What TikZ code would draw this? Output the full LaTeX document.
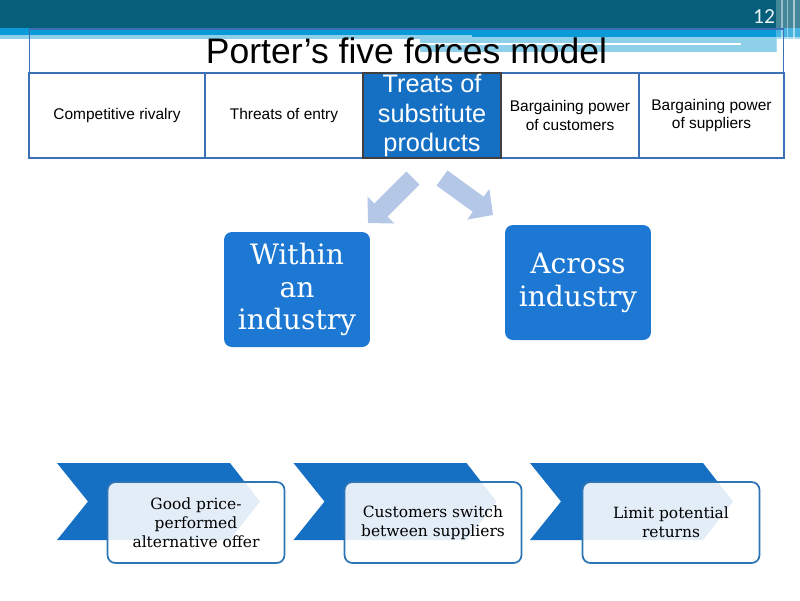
\documentclass[tikz,border=0pt]{standalone}
\usepackage{fontspec}
\setmainfont{Liberation Sans}
\newfontfamily\boxserif{DejaVu Serif}
\newfontfamily\pagenumfont{Carlito}
\usepackage{xcolor}
\definecolor{hdrteal}{HTML}{065F7A}
\definecolor{hdrblue}{HTML}{0A9AD7}
\definecolor{hdrlight}{HTML}{8ED0EA}
\definecolor{tabline}{HTML}{3B6FB6}
\definecolor{forceblue}{HTML}{1570C4}
\definecolor{kindblue}{HTML}{1C78D2}
\definecolor{arrowblue}{HTML}{B4C7E7}
\definecolor{chevblue}{HTML}{1570C4}
\definecolor{stepline}{HTML}{2E75B6}
\usepackage{tikz}
\usetikzlibrary{arrows.meta, calc}

\begin{document}
\begin{tikzpicture}[x=0.02cm, y=-0.02cm,
    cell/.style={draw=tabline, line width=0.6pt, inner sep=0pt,
      minimum height=1.7cm, align=center,
      font=\fontsize{8.8}{10.8}\selectfont},
    kind/.style={fill=kindblue, rounded corners=4.5pt, inner sep=0pt,
      minimum width=2.92cm, minimum height=2.3cm, align=center,
      text=white, font=\boxserif\fontsize{16}{18.7}\selectfont},
    effect/.style={draw=stepline, line width=1pt, fill=white,
      fill opacity=0.88, text opacity=1, rounded corners=4.5pt,
      inner sep=0pt, minimum width=3.54cm, minimum height=1.62cm,
      align=center, font=\boxserif\fontsize{8.8}{10.8}\selectfont},
    fatarrow/.style={arrowblue, line width=10.6pt,
      -{Triangle[length=10.4pt, width=21pt]}}
  ]
  \useasboundingbox (0,0) rectangle (800,600);

  % ---- slide header stripes ----
  \fill[hdrteal]  (0,0)   rectangle (800,28);
  \fill[hdrblue]  (0,28)  rectangle (800,35);
  \fill[hdrblue]  (472,35) rectangle (800,37);
  \fill[hdrlight] (0,35)  rectangle (472,39);
  \fill[hdrlight] (472,37) rectangle (800,39);
  \fill[hdrlight] (420,39) rectangle (777,52);
  \fill[white]    (400,43) rectangle (741,45);
  % right edge strips
  \fill[white, opacity=0.25] (776,0) rectangle (800,53);
  \fill[white, opacity=0.45] (781,0) rectangle (783,53);
  \fill[white, opacity=0.45] (787,0) rectangle (788,53);
  \fill[white, opacity=0.55] (793,0) rectangle (795,53);
  \node[text=white!92!hdrteal, font=\pagenumfont\fontsize{12.2}{14}\selectfont]
        (pagenum) at (764,16.5) {12};

  % ---- five forces table ----
  \node[cell, minimum width=15.1cm, minimum height=0.88cm,
        font=\fontsize{20.2}{24}\selectfont]
        (title) at (406.5,51) {Porter’s five forces model};
  \node[cell, minimum width=3.52cm] (rivalry) at (117,115.5)
        {Competitive rivalry};
  \node[cell, minimum width=3.16cm] (entry) at (284,115.5)
        {Threats of entry};
  \node[cell, minimum width=2.76cm] (buyers) at (570,115.5)
        {Bargaining power\\of customers};
  \node[cell, minimum width=2.9cm] (sellers) at (711.5,115.5)
        {Bargaining power\\of suppliers};
  \node[cell, minimum width=2.76cm, fill=forceblue, draw=black!75,
        text=white, font=\fontsize{14.4}{17}\selectfont]
        (subst) at (432,115.5) {Treats of\\substitute\\products};

  % ---- split arrows ----
  \coordinate (splitL) at (413,178);
  \coordinate (splitR) at (442,178);
  \coordinate (intoL)  at (368,223);
  \coordinate (intoR)  at (493,215);
  \draw[fatarrow] (splitL) -- (intoL);
  \draw[fatarrow] (splitR) -- (intoR);

  % ---- kinds of substitutes ----
  \node[kind] (within) at (297,289.5) {Within\\an\\industry};
  \node[kind] (across) at (578,282.5) {Across\\industry};

  % ---- consequences (chevrons behind boxes) ----
  \foreach \ox in {57, 293.5, 530}
    \fill[chevblue] (\ox,463) -- ++(173,0) -- ++(30,38.5)
          -- ++(-30,38.5) -- ++(-173,0) -- ++(31,-38.5) -- cycle;
  \node[effect] (offer)  at (196,522.5)
        {Good price-\\performed\\alternative offer};
  \node[effect] (switch) at (433,522.5)
        {Customers switch\\between suppliers};
  \node[effect] (limit)  at (671,522.5)
        {Limit potential\\returns};
\end{tikzpicture}
\end{document}
